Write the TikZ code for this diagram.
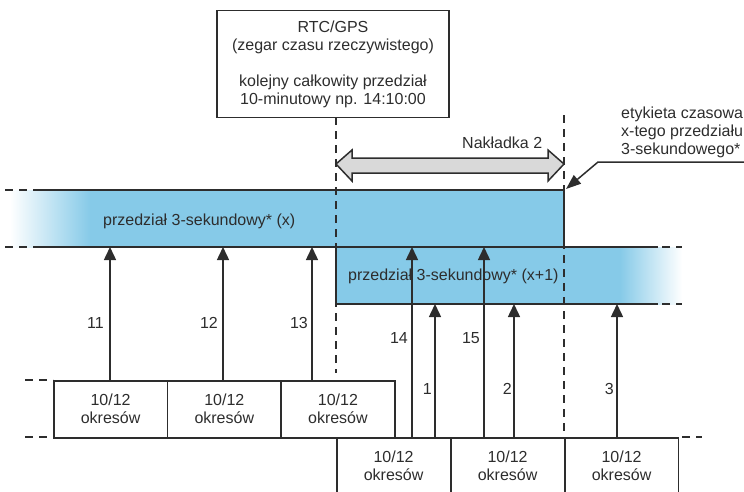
\documentclass[tikz,border=0pt]{standalone}
\usepackage{fontspec}
\setmainfont{Liberation Sans}
\usetikzlibrary{arrows.meta,calc}
\definecolor{bandblue}{RGB}{134,202,232}
\definecolor{ink}{RGB}{45,45,45}
\definecolor{arrgray}{RGB}{217,217,217}
\begin{document}
\begin{tikzpicture}[x=1pt,y=-1pt,
  font=\fontsize{16}{18}\selectfont, text=ink,
  solidline/.style={draw=ink,line width=1.5pt},
  dashline/.style={draw=ink,line width=1.5pt,dash pattern=on 8pt off 6pt},
  arr/.style={draw=ink,line width=1.5pt,-{Triangle[width=12pt,length=13pt]}},
  period/.style={draw=ink,line width=1.5pt,minimum width=113.7pt,minimum height=57pt,inner sep=0pt,align=center,anchor=north west},
  num/.style={anchor=east,inner sep=0pt},
  band/.style={fill=bandblue,inner sep=0pt,minimum height=57pt,anchor=north west}
]
\useasboundingbox (0,0) rectangle (744,491);
\clip (0,0) rectangle (744,491);

% bands
\shade[left color=white,right color=bandblue] (10,190) rectangle (90,247);
\node[band,minimum width=474pt] (bx) at (90,190) {};
\node[band,minimum width=284pt] (by) at (336,247) {};
\shade[left color=bandblue,right color=white] (620,247) rectangle (682,304);

\node[anchor=base west,inner sep=0pt] (tx) at (103,225) {przedział 3-sekundowy* (x)};
\node[anchor=base west,inner sep=0pt] (ty) at (348,280) {przedział 3-sekundowy* (x+1)};

% band outlines
\draw[dashline] (5,190) -- (33,190);
\draw[solidline] (33,190) -- (564,190) -- (564,247);
\draw[dashline] (5,247) -- (33,247);
\draw[solidline] (33,247) -- (658,247);
\draw[dashline] (662,247) -- (682,247);
\draw[solidline] (336,247) -- (336,304) -- (658,304);
\draw[dashline] (662,304) -- (682,304);

% RTC box
\node[solidline,minimum width=232pt,minimum height=107pt,align=center,inner sep=0pt] (rtc) at (333,64)
  {RTC/GPS\\(zegar czasu rzeczywistego)\\[18pt]kolejny całkowity przedział\\10-minutowy np. 14:10:00};

% overlap markers
\coordinate (ovL) at (336,117);
\coordinate (ovR) at (564,115);
\draw[dashline] (ovL) -- (336,373);
\draw[dashline] (ovR) -- (564,437);

% overlap double arrow
\draw[fill=arrgray,draw=ink,line width=1.5pt,line join=miter]
  (336,164) -- (352,150) -- (352,158) -- (548,158) -- (548,150) -- (564,164)
  -- (548,181) -- (548,173) -- (352,173) -- (352,181) -- cycle;
\node[anchor=base west,inner sep=0pt] (nak) at (462,148) {Nakładka 2};

% timestamp label
\node[anchor=west,inner sep=0pt,align=left] (ets) at (621,132) {etykieta czasowa\\x-tego przedziału\\3-sekundowego*};
\coordinate (etsA) at (744,162);
\coordinate (etsB) at (598,162);
\coordinate (etsT) at (566,189);
\draw[solidline,-{Triangle[width=11pt,length=15pt]}] (etsA) -- (etsB) -- (etsT);

% upper row of periods
\node[period] (p1) at (53,380) {10/12\\okresów};
\node[period] (p2) at (166.7,380) {10/12\\okresów};
\node[period] (p3) at (280.3,380) {10/12\\okresów};
\draw[dashline] (25,380) -- (53,380);
\draw[dashline] (25,437) -- (53,437);

% lower row of periods
\node[period] (q1) at (336,437) {10/12\\okresów};
\node[period] (q2) at (450,437) {10/12\\okresów};
\node[period] (q3) at (564,437) {10/12\\okresów};
\draw[dashline] (682,437) -- (702,437);

% arrows to band x
\draw[arr] (110,380) -- (110,247);
\draw[arr] (223,380) -- (223,247);
\draw[arr] (312,380) -- (312,247);
\draw[arr] (412,437) -- (412,247);
\draw[arr] (484,437) -- (484,247);
% arrows to band x+1
\draw[arr] (435,437) -- (435,304);
\draw[arr] (514,437) -- (514,304);
\draw[arr] (617,437) -- (617,304);

% labels
\node[num] (n11) at (104,323) {11};
\node[num] (n12) at (218,323) {12};
\node[num] (n13) at (308,323) {13};
\node[num] (n14) at (408,338) {14};
\node[num] (n15) at (480,338) {15};
\node[num] (n1) at (432,389) {1};
\node[num] (n2) at (512,389) {2};
\node[num] (n3) at (614,389) {3};
\end{tikzpicture}
\end{document}
